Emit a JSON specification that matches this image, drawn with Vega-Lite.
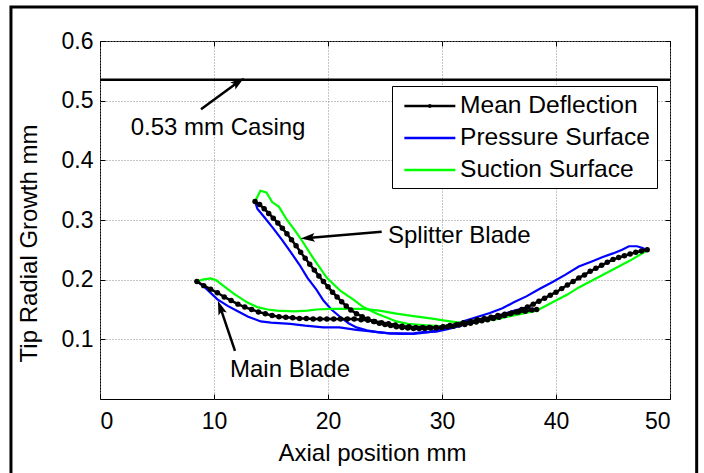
{
  "$schema": "https://vega.github.io/schema/vega-lite/v6.json",
  "autosize": {"type": "none"},
  "padding": {"left": 100, "top": 41, "right": 34, "bottom": 74},
  "width": 570,
  "height": 358,
  "background": "white",
  "config": {
    "view": {"stroke": "black", "strokeWidth": 1},
    "font": "Liberation Sans",
    "axis": {
      "labelFont": "Liberation Sans",
      "labelFontSize": 23,
      "labelColor": "black",
      "titleFont": "Liberation Sans",
      "titleFontSize": 24,
      "titleFontWeight": "normal",
      "titleColor": "black",
      "grid": true,
      "gridColor": "#8a8a8a",
      "gridDash": [1, 2],
      "gridWidth": 1,
      "domain": false,
      "ticks": true,
      "tickSize": -5,
      "tickColor": "black"
    }
  },
  "resolve": {"axis": {"x": "independent", "y": "independent"}},
  "datasets": {
    "curves": [
      {"blade": "Main", "surface": "Mean Deflection", "x": 8.5, "y": 0.197},
      {"blade": "Main", "surface": "Mean Deflection", "x": 9.1, "y": 0.190},
      {"blade": "Main", "surface": "Mean Deflection", "x": 9.7, "y": 0.184},
      {"blade": "Main", "surface": "Mean Deflection", "x": 10.3, "y": 0.178},
      {"blade": "Main", "surface": "Mean Deflection", "x": 10.9, "y": 0.171},
      {"blade": "Main", "surface": "Mean Deflection", "x": 11.5, "y": 0.165},
      {"blade": "Main", "surface": "Mean Deflection", "x": 12.1, "y": 0.159},
      {"blade": "Main", "surface": "Mean Deflection", "x": 12.7, "y": 0.154},
      {"blade": "Main", "surface": "Mean Deflection", "x": 13.3, "y": 0.150},
      {"blade": "Main", "surface": "Mean Deflection", "x": 13.9, "y": 0.146},
      {"blade": "Main", "surface": "Mean Deflection", "x": 14.5, "y": 0.143},
      {"blade": "Main", "surface": "Mean Deflection", "x": 15.1, "y": 0.140},
      {"blade": "Main", "surface": "Mean Deflection", "x": 15.7, "y": 0.138},
      {"blade": "Main", "surface": "Mean Deflection", "x": 16.3, "y": 0.137},
      {"blade": "Main", "surface": "Mean Deflection", "x": 16.9, "y": 0.136},
      {"blade": "Main", "surface": "Mean Deflection", "x": 17.5, "y": 0.135},
      {"blade": "Main", "surface": "Mean Deflection", "x": 18.1, "y": 0.135},
      {"blade": "Main", "surface": "Mean Deflection", "x": 18.7, "y": 0.134},
      {"blade": "Main", "surface": "Mean Deflection", "x": 19.3, "y": 0.134},
      {"blade": "Main", "surface": "Mean Deflection", "x": 19.9, "y": 0.134},
      {"blade": "Main", "surface": "Mean Deflection", "x": 20.5, "y": 0.134},
      {"blade": "Main", "surface": "Mean Deflection", "x": 21.1, "y": 0.134},
      {"blade": "Main", "surface": "Mean Deflection", "x": 21.7, "y": 0.134},
      {"blade": "Main", "surface": "Mean Deflection", "x": 22.3, "y": 0.134},
      {"blade": "Main", "surface": "Mean Deflection", "x": 22.9, "y": 0.133},
      {"blade": "Main", "surface": "Mean Deflection", "x": 23.5, "y": 0.132},
      {"blade": "Main", "surface": "Mean Deflection", "x": 24.1, "y": 0.130},
      {"blade": "Main", "surface": "Mean Deflection", "x": 24.7, "y": 0.128},
      {"blade": "Main", "surface": "Mean Deflection", "x": 25.3, "y": 0.126},
      {"blade": "Main", "surface": "Mean Deflection", "x": 25.9, "y": 0.124},
      {"blade": "Main", "surface": "Mean Deflection", "x": 26.5, "y": 0.122},
      {"blade": "Main", "surface": "Mean Deflection", "x": 27.1, "y": 0.121},
      {"blade": "Main", "surface": "Mean Deflection", "x": 27.7, "y": 0.120},
      {"blade": "Main", "surface": "Mean Deflection", "x": 28.3, "y": 0.120},
      {"blade": "Main", "surface": "Mean Deflection", "x": 28.9, "y": 0.120},
      {"blade": "Main", "surface": "Mean Deflection", "x": 29.5, "y": 0.120},
      {"blade": "Main", "surface": "Mean Deflection", "x": 30.1, "y": 0.121},
      {"blade": "Main", "surface": "Mean Deflection", "x": 30.7, "y": 0.123},
      {"blade": "Main", "surface": "Mean Deflection", "x": 31.3, "y": 0.125},
      {"blade": "Main", "surface": "Mean Deflection", "x": 31.9, "y": 0.128},
      {"blade": "Main", "surface": "Mean Deflection", "x": 32.5, "y": 0.130},
      {"blade": "Main", "surface": "Mean Deflection", "x": 33.1, "y": 0.133},
      {"blade": "Main", "surface": "Mean Deflection", "x": 33.7, "y": 0.135},
      {"blade": "Main", "surface": "Mean Deflection", "x": 34.3, "y": 0.137},
      {"blade": "Main", "surface": "Mean Deflection", "x": 34.9, "y": 0.140},
      {"blade": "Main", "surface": "Mean Deflection", "x": 35.5, "y": 0.142},
      {"blade": "Main", "surface": "Mean Deflection", "x": 36.1, "y": 0.144},
      {"blade": "Main", "surface": "Mean Deflection", "x": 36.7, "y": 0.146},
      {"blade": "Main", "surface": "Mean Deflection", "x": 37.3, "y": 0.147},
      {"blade": "Main", "surface": "Mean Deflection", "x": 37.9, "y": 0.149},
      {"blade": "Main", "surface": "Mean Deflection", "x": 38.3, "y": 0.150},

      {"blade": "Splitter", "surface": "Mean Deflection", "x": 13.6, "y": 0.331},
      {"blade": "Splitter", "surface": "Mean Deflection", "x": 14.0, "y": 0.326},
      {"blade": "Splitter", "surface": "Mean Deflection", "x": 14.4, "y": 0.319},
      {"blade": "Splitter", "surface": "Mean Deflection", "x": 14.8, "y": 0.311},
      {"blade": "Splitter", "surface": "Mean Deflection", "x": 15.2, "y": 0.303},
      {"blade": "Splitter", "surface": "Mean Deflection", "x": 15.6, "y": 0.295},
      {"blade": "Splitter", "surface": "Mean Deflection", "x": 16.0, "y": 0.286},
      {"blade": "Splitter", "surface": "Mean Deflection", "x": 16.4, "y": 0.277},
      {"blade": "Splitter", "surface": "Mean Deflection", "x": 16.8, "y": 0.267},
      {"blade": "Splitter", "surface": "Mean Deflection", "x": 17.2, "y": 0.257},
      {"blade": "Splitter", "surface": "Mean Deflection", "x": 17.6, "y": 0.246},
      {"blade": "Splitter", "surface": "Mean Deflection", "x": 18.0, "y": 0.236},
      {"blade": "Splitter", "surface": "Mean Deflection", "x": 18.4, "y": 0.226},
      {"blade": "Splitter", "surface": "Mean Deflection", "x": 18.8, "y": 0.216},
      {"blade": "Splitter", "surface": "Mean Deflection", "x": 19.2, "y": 0.206},
      {"blade": "Splitter", "surface": "Mean Deflection", "x": 19.6, "y": 0.197},
      {"blade": "Splitter", "surface": "Mean Deflection", "x": 20.0, "y": 0.188},
      {"blade": "Splitter", "surface": "Mean Deflection", "x": 20.4, "y": 0.179},
      {"blade": "Splitter", "surface": "Mean Deflection", "x": 20.8, "y": 0.171},
      {"blade": "Splitter", "surface": "Mean Deflection", "x": 21.2, "y": 0.163},
      {"blade": "Splitter", "surface": "Mean Deflection", "x": 21.6, "y": 0.156},
      {"blade": "Splitter", "surface": "Mean Deflection", "x": 22.0, "y": 0.149},
      {"blade": "Splitter", "surface": "Mean Deflection", "x": 22.5, "y": 0.143},
      {"blade": "Splitter", "surface": "Mean Deflection", "x": 23.0, "y": 0.138},
      {"blade": "Splitter", "surface": "Mean Deflection", "x": 23.5, "y": 0.134},
      {"blade": "Splitter", "surface": "Mean Deflection", "x": 24.0, "y": 0.130},
      {"blade": "Splitter", "surface": "Mean Deflection", "x": 24.5, "y": 0.127},
      {"blade": "Splitter", "surface": "Mean Deflection", "x": 25.0, "y": 0.125},
      {"blade": "Splitter", "surface": "Mean Deflection", "x": 25.5, "y": 0.123},
      {"blade": "Splitter", "surface": "Mean Deflection", "x": 26.0, "y": 0.121},
      {"blade": "Splitter", "surface": "Mean Deflection", "x": 26.5, "y": 0.120},
      {"blade": "Splitter", "surface": "Mean Deflection", "x": 27.0, "y": 0.119},
      {"blade": "Splitter", "surface": "Mean Deflection", "x": 27.5, "y": 0.118},
      {"blade": "Splitter", "surface": "Mean Deflection", "x": 28.0, "y": 0.118},
      {"blade": "Splitter", "surface": "Mean Deflection", "x": 28.5, "y": 0.118},
      {"blade": "Splitter", "surface": "Mean Deflection", "x": 29.0, "y": 0.119},
      {"blade": "Splitter", "surface": "Mean Deflection", "x": 29.5, "y": 0.119},
      {"blade": "Splitter", "surface": "Mean Deflection", "x": 30.0, "y": 0.120},
      {"blade": "Splitter", "surface": "Mean Deflection", "x": 30.5, "y": 0.121},
      {"blade": "Splitter", "surface": "Mean Deflection", "x": 31.0, "y": 0.122},
      {"blade": "Splitter", "surface": "Mean Deflection", "x": 31.5, "y": 0.124},
      {"blade": "Splitter", "surface": "Mean Deflection", "x": 32.0, "y": 0.125},
      {"blade": "Splitter", "surface": "Mean Deflection", "x": 32.5, "y": 0.127},
      {"blade": "Splitter", "surface": "Mean Deflection", "x": 33.0, "y": 0.129},
      {"blade": "Splitter", "surface": "Mean Deflection", "x": 33.5, "y": 0.131},
      {"blade": "Splitter", "surface": "Mean Deflection", "x": 34.0, "y": 0.133},
      {"blade": "Splitter", "surface": "Mean Deflection", "x": 34.5, "y": 0.135},
      {"blade": "Splitter", "surface": "Mean Deflection", "x": 35.0, "y": 0.137},
      {"blade": "Splitter", "surface": "Mean Deflection", "x": 35.5, "y": 0.140},
      {"blade": "Splitter", "surface": "Mean Deflection", "x": 36.0, "y": 0.143},
      {"blade": "Splitter", "surface": "Mean Deflection", "x": 36.5, "y": 0.146},
      {"blade": "Splitter", "surface": "Mean Deflection", "x": 37.0, "y": 0.150},
      {"blade": "Splitter", "surface": "Mean Deflection", "x": 37.5, "y": 0.154},
      {"blade": "Splitter", "surface": "Mean Deflection", "x": 38.0, "y": 0.159},
      {"blade": "Splitter", "surface": "Mean Deflection", "x": 38.5, "y": 0.164},
      {"blade": "Splitter", "surface": "Mean Deflection", "x": 39.0, "y": 0.169},
      {"blade": "Splitter", "surface": "Mean Deflection", "x": 39.5, "y": 0.174},
      {"blade": "Splitter", "surface": "Mean Deflection", "x": 40.0, "y": 0.179},
      {"blade": "Splitter", "surface": "Mean Deflection", "x": 40.5, "y": 0.185},
      {"blade": "Splitter", "surface": "Mean Deflection", "x": 41.0, "y": 0.191},
      {"blade": "Splitter", "surface": "Mean Deflection", "x": 41.5, "y": 0.197},
      {"blade": "Splitter", "surface": "Mean Deflection", "x": 42.0, "y": 0.203},
      {"blade": "Splitter", "surface": "Mean Deflection", "x": 42.5, "y": 0.208},
      {"blade": "Splitter", "surface": "Mean Deflection", "x": 43.0, "y": 0.214},
      {"blade": "Splitter", "surface": "Mean Deflection", "x": 43.5, "y": 0.219},
      {"blade": "Splitter", "surface": "Mean Deflection", "x": 44.0, "y": 0.224},
      {"blade": "Splitter", "surface": "Mean Deflection", "x": 44.5, "y": 0.229},
      {"blade": "Splitter", "surface": "Mean Deflection", "x": 45.0, "y": 0.234},
      {"blade": "Splitter", "surface": "Mean Deflection", "x": 45.5, "y": 0.237},
      {"blade": "Splitter", "surface": "Mean Deflection", "x": 46.0, "y": 0.240},
      {"blade": "Splitter", "surface": "Mean Deflection", "x": 46.5, "y": 0.243},
      {"blade": "Splitter", "surface": "Mean Deflection", "x": 47.0, "y": 0.246},
      {"blade": "Splitter", "surface": "Mean Deflection", "x": 47.5, "y": 0.248},
      {"blade": "Splitter", "surface": "Mean Deflection", "x": 48.0, "y": 0.250},

      {"blade": "Main", "surface": "Pressure Surface", "x": 8.5, "y": 0.197},
      {"blade": "Main", "surface": "Pressure Surface", "x": 9.2, "y": 0.187},
      {"blade": "Main", "surface": "Pressure Surface", "x": 10.3, "y": 0.167},
      {"blade": "Main", "surface": "Pressure Surface", "x": 11.2, "y": 0.156},
      {"blade": "Main", "surface": "Pressure Surface", "x": 12.0, "y": 0.148},
      {"blade": "Main", "surface": "Pressure Surface", "x": 13.0, "y": 0.138},
      {"blade": "Main", "surface": "Pressure Surface", "x": 14.1, "y": 0.130},
      {"blade": "Main", "surface": "Pressure Surface", "x": 15.0, "y": 0.128},
      {"blade": "Main", "surface": "Pressure Surface", "x": 16.7, "y": 0.126},
      {"blade": "Main", "surface": "Pressure Surface", "x": 18.0, "y": 0.123},
      {"blade": "Main", "surface": "Pressure Surface", "x": 19.6, "y": 0.120},
      {"blade": "Main", "surface": "Pressure Surface", "x": 21.0, "y": 0.120},
      {"blade": "Main", "surface": "Pressure Surface", "x": 22.5, "y": 0.116},
      {"blade": "Main", "surface": "Pressure Surface", "x": 24.0, "y": 0.113},
      {"blade": "Main", "surface": "Pressure Surface", "x": 25.4, "y": 0.110},
      {"blade": "Main", "surface": "Pressure Surface", "x": 26.5, "y": 0.109},
      {"blade": "Main", "surface": "Pressure Surface", "x": 27.5, "y": 0.110},
      {"blade": "Main", "surface": "Pressure Surface", "x": 28.3, "y": 0.112},
      {"blade": "Main", "surface": "Pressure Surface", "x": 29.5, "y": 0.113},
      {"blade": "Main", "surface": "Pressure Surface", "x": 30.5, "y": 0.117},
      {"blade": "Main", "surface": "Pressure Surface", "x": 31.5, "y": 0.122},
      {"blade": "Main", "surface": "Pressure Surface", "x": 32.5, "y": 0.128},
      {"blade": "Main", "surface": "Pressure Surface", "x": 33.5, "y": 0.133},
      {"blade": "Main", "surface": "Pressure Surface", "x": 35.0, "y": 0.140},
      {"blade": "Main", "surface": "Pressure Surface", "x": 36.3, "y": 0.148},
      {"blade": "Main", "surface": "Pressure Surface", "x": 37.3, "y": 0.153},
      {"blade": "Main", "surface": "Pressure Surface", "x": 38.3, "y": 0.150},

      {"blade": "Splitter", "surface": "Pressure Surface", "x": 13.6, "y": 0.331},
      {"blade": "Splitter", "surface": "Pressure Surface", "x": 13.8, "y": 0.319},
      {"blade": "Splitter", "surface": "Pressure Surface", "x": 14.4, "y": 0.305},
      {"blade": "Splitter", "surface": "Pressure Surface", "x": 15.2, "y": 0.286},
      {"blade": "Splitter", "surface": "Pressure Surface", "x": 16.0, "y": 0.266},
      {"blade": "Splitter", "surface": "Pressure Surface", "x": 16.7, "y": 0.247},
      {"blade": "Splitter", "surface": "Pressure Surface", "x": 17.5, "y": 0.225},
      {"blade": "Splitter", "surface": "Pressure Surface", "x": 18.2, "y": 0.203},
      {"blade": "Splitter", "surface": "Pressure Surface", "x": 19.0, "y": 0.183},
      {"blade": "Splitter", "surface": "Pressure Surface", "x": 19.6, "y": 0.165},
      {"blade": "Splitter", "surface": "Pressure Surface", "x": 20.3, "y": 0.150},
      {"blade": "Splitter", "surface": "Pressure Surface", "x": 21.1, "y": 0.137},
      {"blade": "Splitter", "surface": "Pressure Surface", "x": 21.8, "y": 0.127},
      {"blade": "Splitter", "surface": "Pressure Surface", "x": 22.5, "y": 0.120},
      {"blade": "Splitter", "surface": "Pressure Surface", "x": 23.4, "y": 0.115},
      {"blade": "Splitter", "surface": "Pressure Surface", "x": 24.3, "y": 0.112},
      {"blade": "Splitter", "surface": "Pressure Surface", "x": 25.4, "y": 0.110},
      {"blade": "Splitter", "surface": "Pressure Surface", "x": 26.3, "y": 0.110},
      {"blade": "Splitter", "surface": "Pressure Surface", "x": 27.5, "y": 0.109},
      {"blade": "Splitter", "surface": "Pressure Surface", "x": 28.9, "y": 0.112},
      {"blade": "Splitter", "surface": "Pressure Surface", "x": 30.4, "y": 0.120},
      {"blade": "Splitter", "surface": "Pressure Surface", "x": 31.8, "y": 0.130},
      {"blade": "Splitter", "surface": "Pressure Surface", "x": 33.0, "y": 0.137},
      {"blade": "Splitter", "surface": "Pressure Surface", "x": 34.2, "y": 0.144},
      {"blade": "Splitter", "surface": "Pressure Surface", "x": 35.3, "y": 0.152},
      {"blade": "Splitter", "surface": "Pressure Surface", "x": 36.3, "y": 0.162},
      {"blade": "Splitter", "surface": "Pressure Surface", "x": 37.4, "y": 0.172},
      {"blade": "Splitter", "surface": "Pressure Surface", "x": 38.5, "y": 0.184},
      {"blade": "Splitter", "surface": "Pressure Surface", "x": 39.7, "y": 0.196},
      {"blade": "Splitter", "surface": "Pressure Surface", "x": 40.8, "y": 0.208},
      {"blade": "Splitter", "surface": "Pressure Surface", "x": 42.0, "y": 0.222},
      {"blade": "Splitter", "surface": "Pressure Surface", "x": 43.2, "y": 0.231},
      {"blade": "Splitter", "surface": "Pressure Surface", "x": 44.1, "y": 0.238},
      {"blade": "Splitter", "surface": "Pressure Surface", "x": 45.0, "y": 0.244},
      {"blade": "Splitter", "surface": "Pressure Surface", "x": 45.8, "y": 0.250},
      {"blade": "Splitter", "surface": "Pressure Surface", "x": 46.4, "y": 0.256},
      {"blade": "Splitter", "surface": "Pressure Surface", "x": 47.1, "y": 0.256},
      {"blade": "Splitter", "surface": "Pressure Surface", "x": 47.6, "y": 0.253},
      {"blade": "Splitter", "surface": "Pressure Surface", "x": 48.0, "y": 0.249},

      {"blade": "Main", "surface": "Suction Surface", "x": 8.5, "y": 0.197},
      {"blade": "Main", "surface": "Suction Surface", "x": 9.0, "y": 0.200},
      {"blade": "Main", "surface": "Suction Surface", "x": 9.7, "y": 0.202},
      {"blade": "Main", "surface": "Suction Surface", "x": 10.2, "y": 0.199},
      {"blade": "Main", "surface": "Suction Surface", "x": 10.8, "y": 0.190},
      {"blade": "Main", "surface": "Suction Surface", "x": 11.7, "y": 0.177},
      {"blade": "Main", "surface": "Suction Surface", "x": 12.9, "y": 0.162},
      {"blade": "Main", "surface": "Suction Surface", "x": 13.8, "y": 0.154},
      {"blade": "Main", "surface": "Suction Surface", "x": 14.7, "y": 0.150},
      {"blade": "Main", "surface": "Suction Surface", "x": 15.5, "y": 0.148},
      {"blade": "Main", "surface": "Suction Surface", "x": 17.0, "y": 0.147},
      {"blade": "Main", "surface": "Suction Surface", "x": 18.2, "y": 0.148},
      {"blade": "Main", "surface": "Suction Surface", "x": 19.0, "y": 0.150},
      {"blade": "Main", "surface": "Suction Surface", "x": 20.2, "y": 0.151},
      {"blade": "Main", "surface": "Suction Surface", "x": 21.5, "y": 0.151},
      {"blade": "Main", "surface": "Suction Surface", "x": 23.1, "y": 0.151},
      {"blade": "Main", "surface": "Suction Surface", "x": 24.5, "y": 0.148},
      {"blade": "Main", "surface": "Suction Surface", "x": 26.0, "y": 0.143},
      {"blade": "Main", "surface": "Suction Surface", "x": 27.5, "y": 0.139},
      {"blade": "Main", "surface": "Suction Surface", "x": 29.0, "y": 0.135},
      {"blade": "Main", "surface": "Suction Surface", "x": 30.4, "y": 0.131},
      {"blade": "Main", "surface": "Suction Surface", "x": 31.5, "y": 0.128},
      {"blade": "Main", "surface": "Suction Surface", "x": 32.5, "y": 0.129},
      {"blade": "Main", "surface": "Suction Surface", "x": 34.0, "y": 0.133},
      {"blade": "Main", "surface": "Suction Surface", "x": 35.5, "y": 0.138},
      {"blade": "Main", "surface": "Suction Surface", "x": 37.0, "y": 0.144},
      {"blade": "Main", "surface": "Suction Surface", "x": 38.3, "y": 0.150},

      {"blade": "Splitter", "surface": "Suction Surface", "x": 13.6, "y": 0.331},
      {"blade": "Splitter", "surface": "Suction Surface", "x": 14.07, "y": 0.349},
      {"blade": "Splitter", "surface": "Suction Surface", "x": 14.6, "y": 0.346},
      {"blade": "Splitter", "surface": "Suction Surface", "x": 15.1, "y": 0.330},
      {"blade": "Splitter", "surface": "Suction Surface", "x": 15.7, "y": 0.322},
      {"blade": "Splitter", "surface": "Suction Surface", "x": 16.4, "y": 0.300},
      {"blade": "Splitter", "surface": "Suction Surface", "x": 17.0, "y": 0.285},
      {"blade": "Splitter", "surface": "Suction Surface", "x": 17.6, "y": 0.269},
      {"blade": "Splitter", "surface": "Suction Surface", "x": 18.7, "y": 0.236},
      {"blade": "Splitter", "surface": "Suction Surface", "x": 19.9, "y": 0.203},
      {"blade": "Splitter", "surface": "Suction Surface", "x": 21.1, "y": 0.181},
      {"blade": "Splitter", "surface": "Suction Surface", "x": 22.2, "y": 0.167},
      {"blade": "Splitter", "surface": "Suction Surface", "x": 23.1, "y": 0.154},
      {"blade": "Splitter", "surface": "Suction Surface", "x": 24.3, "y": 0.143},
      {"blade": "Splitter", "surface": "Suction Surface", "x": 25.2, "y": 0.136},
      {"blade": "Splitter", "surface": "Suction Surface", "x": 26.0, "y": 0.130},
      {"blade": "Splitter", "surface": "Suction Surface", "x": 27.0, "y": 0.126},
      {"blade": "Splitter", "surface": "Suction Surface", "x": 28.3, "y": 0.124},
      {"blade": "Splitter", "surface": "Suction Surface", "x": 29.8, "y": 0.122},
      {"blade": "Splitter", "surface": "Suction Surface", "x": 31.0, "y": 0.123},
      {"blade": "Splitter", "surface": "Suction Surface", "x": 31.8, "y": 0.126},
      {"blade": "Splitter", "surface": "Suction Surface", "x": 33.3, "y": 0.130},
      {"blade": "Splitter", "surface": "Suction Surface", "x": 34.8, "y": 0.134},
      {"blade": "Splitter", "surface": "Suction Surface", "x": 36.5, "y": 0.141},
      {"blade": "Splitter", "surface": "Suction Surface", "x": 38.3, "y": 0.148},
      {"blade": "Splitter", "surface": "Suction Surface", "x": 39.7, "y": 0.162},
      {"blade": "Splitter", "surface": "Suction Surface", "x": 41.0, "y": 0.175},
      {"blade": "Splitter", "surface": "Suction Surface", "x": 42.0, "y": 0.187},
      {"blade": "Splitter", "surface": "Suction Surface", "x": 43.5, "y": 0.202},
      {"blade": "Splitter", "surface": "Suction Surface", "x": 45.0, "y": 0.217},
      {"blade": "Splitter", "surface": "Suction Surface", "x": 46.5, "y": 0.232},
      {"blade": "Splitter", "surface": "Suction Surface", "x": 48.0, "y": 0.249}
    ],
    "notes": [
      {"label": "0.53 mm Casing", "x": 2.69, "y": 0.4424},
      {"label": "Splitter Blade", "x": 25.26, "y": 0.261},
      {"label": "Main Blade", "x": 11.4, "y": 0.0374}
    ],
    "arrows": [
      {"target": "casing", "x": 8.86, "y": 0.4855, "x2": 12.15, "y2": 0.5316},
      {"target": "splitter", "x": 24.71, "y": 0.2804, "x2": 18.22, "y2": 0.270},
      {"target": "main", "x": 11.84, "y": 0.0805, "x2": 10.55, "y2": 0.1537}
    ]
  },
  "layer": [
    {
      "description": "figure frame drawn around the whole axes area, carrying the bottom and left axes",
      "data": {"values": [{}]},
      "mark": {"type": "rect", "fillOpacity": 0, "stroke": "black", "strokeWidth": 3, "clip": false},
      "encoding": {
        "x": {"datum": -7.81, "type": "quantitative", "scale": {"domain": [0, 50], "nice": false, "zero": false},
          "axis": {"orient": "bottom", "values": [0, 10, 20, 30, 40, 50], "title": "Axial position mm", "labelPadding": 34, "labelBaseline": "alphabetic",
            "titleX": 272, "titleY": 61, "titleAlign": "center", "titleBaseline": "alphabetic"}},
        "x2": {"datum": 52.34},
        "y": {"datum": 0.657, "type": "quantitative", "scale": {"domain": [0, 0.6], "nice": false, "zero": false},
          "axis": {"orient": "left", "values": [0.1, 0.2, 0.3, 0.4, 0.5, 0.6], "format": ".1f", "title": "Tip Radial Growth mm", "labelPadding": 12,
            "titleX": -64, "titleY": 202, "titleAngle": -90, "titleAlign": "center", "titleBaseline": "alphabetic"}},
        "y2": {"datum": -0.14}
      }
    },
    {
      "description": "inward ticks along the top and right edges of the box",
      "data": {"values": [{}]},
      "mark": {"type": "point", "opacity": 0},
      "encoding": {
        "x": {"datum": 0, "type": "quantitative",
          "axis": {"orient": "top", "values": [0, 10, 20, 30, 40, 50], "labels": false, "title": null, "grid": false}},
        "y": {"datum": 0, "type": "quantitative",
          "axis": {"orient": "right", "values": [0, 0.1, 0.2, 0.3, 0.4, 0.5, 0.6], "labels": false, "title": null, "grid": false}}
      }
    },
    {
      "description": "casing radius",
      "data": {"values": [{}]},
      "mark": {"type": "rule", "color": "black", "strokeWidth": 2.5},
      "encoding": {"y": {"datum": 0.535, "type": "quantitative", "axis": null}}
    },
    {
      "data": {"name": "curves"},
      "transform": [{"filter": "datum.surface === 'Pressure Surface'"}],
      "mark": {"type": "line", "strokeWidth": 2.2},
      "encoding": {
        "x": {"field": "x", "type": "quantitative", "axis": null},
        "y": {"field": "y", "type": "quantitative", "axis": null},
        "detail": {"field": "blade"},
        "color": {"field": "surface", "type": "nominal",
          "scale": {"domain": ["Mean Deflection", "Pressure Surface", "Suction Surface"], "range": ["#000000", "#0000ff", "#00ff00"]},
          "legend": {
            "title": null, "orient": "none", "legendX": 292, "legendY": 45,
            "strokeColor": "black", "fillColor": "white", "padding": 6,
            "symbolType": "stroke", "symbolSize": 650, "symbolStrokeWidth": 2.5,
            "labelFont": "Liberation Sans", "labelFontSize": 24.6, "labelColor": "black", "labelOffset": 34, "labelLimit": 400,
            "rowPadding": 6,
            "encode": {"symbols": {"update": {"shape": {"signal": "datum.value === 'Mean Deflection' ? 'M-0.6,0H3.4M1.34,0A0.06,0.06,0,1,1,1.46,0A0.06,0.06,0,1,1,1.34,0' : 'M-0.6,0H3.4'"}}}}
          }
        }
      }
    },
    {
      "data": {"name": "curves"},
      "transform": [{"filter": "datum.surface === 'Suction Surface'"}],
      "mark": {"type": "line", "strokeWidth": 2.2},
      "encoding": {
        "x": {"field": "x", "type": "quantitative", "axis": null},
        "y": {"field": "y", "type": "quantitative", "axis": null},
        "detail": {"field": "blade"},
        "color": {"field": "surface", "type": "nominal"}
      }
    },
    {
      "data": {"name": "curves"},
      "transform": [{"filter": "datum.surface === 'Mean Deflection'"}],
      "mark": {"type": "line", "strokeWidth": 2.5},
      "encoding": {
        "x": {"field": "x", "type": "quantitative", "axis": null},
        "y": {"field": "y", "type": "quantitative", "axis": null},
        "detail": {"field": "blade"},
        "color": {"field": "surface", "type": "nominal"}
      }
    },
    {
      "data": {"name": "curves"},
      "transform": [{"filter": "datum.surface === 'Mean Deflection'"}],
      "mark": {"type": "point", "filled": true, "color": "black", "size": 30, "opacity": 1},
      "encoding": {
        "x": {"field": "x", "type": "quantitative", "axis": null},
        "y": {"field": "y", "type": "quantitative", "axis": null}
      }
    },
    {
      "data": {"name": "arrows"},
      "mark": {"type": "rule", "color": "black", "strokeWidth": 2.5},
      "encoding": {
        "x": {"field": "x", "type": "quantitative", "axis": null},
        "y": {"field": "y", "type": "quantitative", "axis": null},
        "x2": {"field": "x2"},
        "y2": {"field": "y2"}
      }
    },
    {
      "data": {"name": "arrows"},
      "transform": [{"filter": "datum.target === 'casing'"}],
      "mark": {"type": "point", "shape": "M0,-1L0.62,1L0,0.6L-0.62,1Z", "filled": true, "color": "black", "size": 200, "angle": 54, "opacity": 1},
      "encoding": {"x": {"field": "x2", "type": "quantitative", "axis": null}, "y": {"field": "y2", "type": "quantitative", "axis": null}}
    },
    {
      "data": {"name": "arrows"},
      "transform": [{"filter": "datum.target === 'splitter'"}],
      "mark": {"type": "point", "shape": "M0,-1L0.62,1L0,0.6L-0.62,1Z", "filled": true, "color": "black", "size": 200, "angle": 265.5, "opacity": 1},
      "encoding": {"x": {"field": "x2", "type": "quantitative", "axis": null}, "y": {"field": "y2", "type": "quantitative", "axis": null}}
    },
    {
      "data": {"name": "arrows"},
      "transform": [{"filter": "datum.target === 'main'"}],
      "mark": {"type": "point", "shape": "M0,-1L0.62,1L0,0.6L-0.62,1Z", "filled": true, "color": "black", "size": 200, "angle": 340.3, "opacity": 1},
      "encoding": {"x": {"field": "x2", "type": "quantitative", "axis": null}, "y": {"field": "y2", "type": "quantitative", "axis": null}}
    },
    {
      "data": {"name": "notes"},
      "mark": {"type": "text", "align": "left", "baseline": "alphabetic", "font": "Liberation Sans", "fontSize": 24, "color": "black"},
      "encoding": {
        "x": {"field": "x", "type": "quantitative", "axis": null},
        "y": {"field": "y", "type": "quantitative", "axis": null},
        "text": {"field": "label"}
      }
    }
  ]
}
